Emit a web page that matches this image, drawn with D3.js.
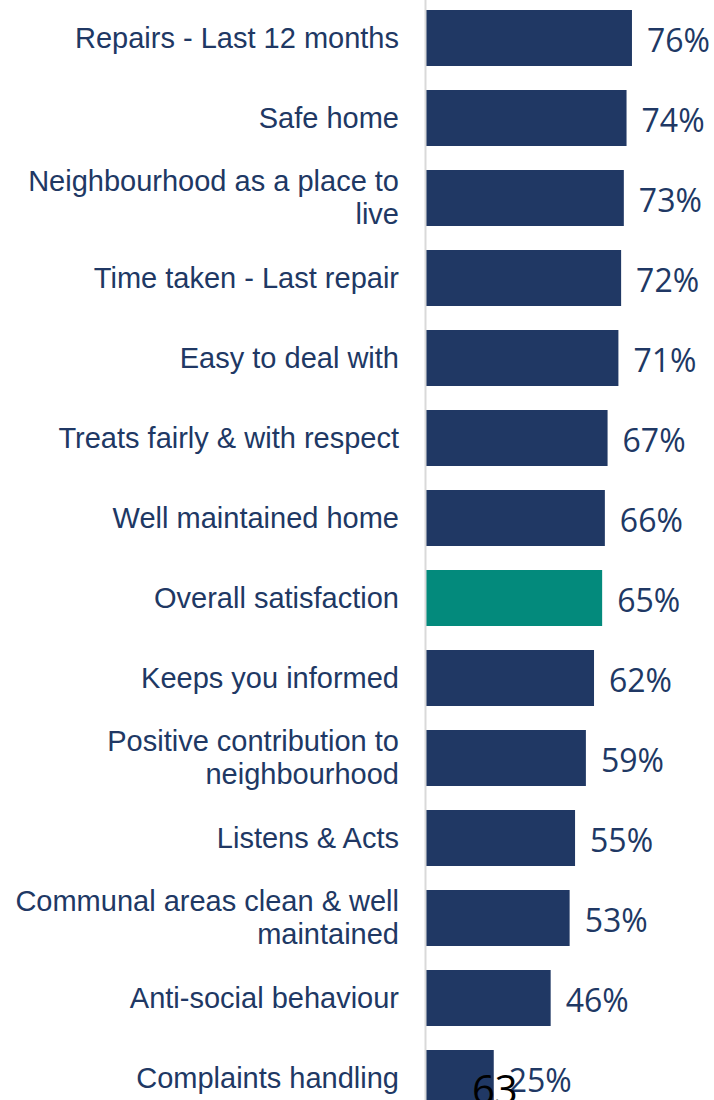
<!DOCTYPE html>
<html>
<head>
<meta charset="utf-8">
<script src="https://cdn.jsdelivr.net/npm/d3@7"></script>
<style>
  body { margin: 0; background: #fff; }
  svg { display: block; }
</style>
</head>
<body>
<svg id="chart" width="714" height="1100"></svg>
<script>
// satisfaction measures, top to bottom
var categories = [
  "Repairs - Last 12 months",
  "Safe home",
  "Neighbourhood as a place to live",
  "Time taken - Last repair",
  "Easy to deal with",
  "Treats fairly & with respect",
  "Well maintained home",
  "Overall satisfaction",
  "Keeps you informed",
  "Positive contribution to neighbourhood",
  "Listens & Acts",
  "Communal areas clean & well maintained",
  "Anti-social behaviour",
  "Complaints handling"
];
var values = [76, 74, 73, 72, 71, 67, 66, 65, 62, 59, 55, 53, 46, 25];
var highlight = "Overall satisfaction";
var pageNumber = "63";

var navy = "#203864", teal = "#038a7c";
var svg = d3.select("#chart");

var x = d3.scaleLinear().domain([0, 100]).range([426, 697]);
var y = d3.scaleBand().domain(categories).range([-2, 1118])
  .paddingInner(0.3).paddingOuter(0.15);

// bars
svg.selectAll(".bar").data(categories).enter().append("rect")
  .attr("class", "bar")
  .attr("x", x(0))
  .attr("y", function(d){ return y(d); })
  .attr("width", function(d, i){ return x(values[i]) - x(0); })
  .attr("height", y.bandwidth())
  .attr("fill", function(d){ return d === highlight ? teal : navy; });

// axis line
svg.append("line")
  .attr("x1", 425.5).attr("x2", 425.5)
  .attr("y1", 0).attr("y2", 1100)
  .attr("stroke", "#d9d9d9").attr("stroke-width", 2);

// value labels
svg.selectAll(".val").data(categories).enter().append("text")
  .attr("class", "val")
  .attr("x", function(d, i){ return x(values[i]) + 15; })
  .attr("y", function(d){ return y(d) + y.bandwidth() / 2 + 13.5; })
  .attr("font-family", "'Open Sans', sans-serif")
  .attr("font-size", 32)
  .attr("fill", navy)
  .text(function(d, i){ return values[i] + "%"; });

// category labels, wrapped to width
var maxW = 395;
var labels = svg.selectAll(".cat").data(categories).enter().append("text")
  .attr("class", "cat")
  .attr("text-anchor", "end")
  .attr("font-family", "'Liberation Sans', Arial, sans-serif")
  .attr("font-size", 29)
  .attr("fill", navy);

labels.each(function(d){
  var t = d3.select(this);
  var words = d.split(" "), lines = [], line = [];
  var probe = t.append("tspan");
  words.forEach(function(w){
    line.push(w);
    probe.text(line.join(" "));
    if (probe.node().getComputedTextLength() > maxW && line.length > 1) {
      line.pop();
      lines.push(line.join(" "));
      line = [w];
    }
  });
  lines.push(line.join(" "));
  probe.remove();
  var cy = y(d) + y.bandwidth() / 2;
  var first = lines.length === 1 ? cy + 10 : cy - 7;
  lines.forEach(function(l, k){
    t.append("tspan").attr("x", 399).attr("y", first + k * 33).text(l);
  });
});

// page number overlapping the bottom
svg.append("text")
  .attr("x", 472).attr("y", 1104)
  .attr("font-family", "'Open Sans', sans-serif")
  .attr("font-size", 40)
  .attr("fill", "#000")
  .text(pageNumber);
</script>
</body>
</html>
